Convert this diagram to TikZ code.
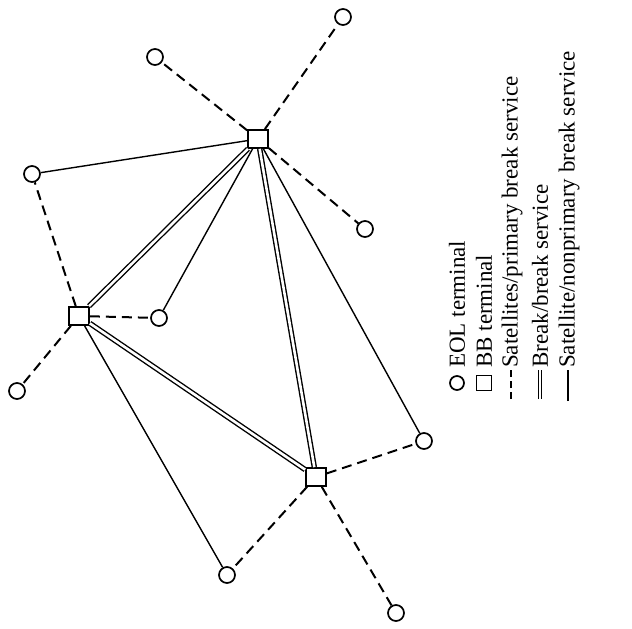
\documentclass[tikz,border=0pt]{standalone}
\usepackage{fontspec}
\setmainfont{Liberation Serif}
\begin{document}
\begin{tikzpicture}[x=1pt,y=-1pt,
  eol/.style={circle,draw,line width=1.7pt,minimum size=16pt,inner sep=0pt},
  bb/.style={rectangle,draw,line width=1.7pt,minimum width=20pt,minimum height=18pt,inner sep=0pt,fill=white},
  prim/.style={line width=2pt,dash pattern=on 10pt off 6pt},
  brk/.style={double,double distance=2.6pt,line width=1.4pt},
  nonp/.style={line width=1.4pt},
  legtext/.style={rotate=90,anchor=west,font=\fontsize{23}{27}\selectfont,inner sep=0pt}]
\useasboundingbox (0,0) rectangle (632,629);
% BB terminals
\node[bb] (A) at (258,139) {};
\node[bb] (B) at (79,316) {};
\node[bb] (C) at (316,477) {};
% EOL terminals
\node[eol] (c1) at (343,17) {};
\node[eol] (c2) at (155,57) {};
\node[eol] (c3) at (32,174) {};
\node[eol] (c4) at (365,229) {};
\node[eol] (c5) at (159,318) {};
\node[eol] (c6) at (17,391) {};
\node[eol] (c7) at (424,441) {};
\node[eol] (c8) at (227,575) {};
\node[eol] (c9) at (396,613) {};
% satellite / primary break service
\draw[prim] (A) -- (c1);
\draw[prim] (A) -- (c2);
\draw[prim] (A) -- (c4);
\draw[prim] (B) -- (c3);
\draw[prim] (B) -- (c5);
\draw[prim] (B) -- (c6);
\draw[prim] (C) -- (c7);
\draw[prim] (C) -- (c8);
\draw[prim] (C) -- (c9);
% break / break service
\draw[brk] (A) -- (B);
\draw[brk] (A) -- (C);
\draw[brk] (B) -- (C);
% satellite / nonprimary break service
\draw[nonp] (A) -- (c3);
\draw[nonp] (A) -- (c5);
\draw[nonp] (A) -- (c7);
\draw[nonp] (B) -- (c8);
% legend
\node[eol,minimum size=14pt] (l1) at (457,383) {};
\node[bb,minimum width=15pt,minimum height=15pt] (l2) at (484,383) {};
\coordinate (l3a) at (511,399); \coordinate (l3b) at (511,370);
\coordinate (l4a) at (540,399); \coordinate (l4b) at (540,370);
\coordinate (l5a) at (568,401); \coordinate (l5b) at (568,370);
\draw[prim,dash pattern=on 7pt off 4pt] (l3a) -- (l3b);
\draw[brk,double distance=2pt,line width=1.2pt] (l4a) -- (l4b);
\draw[nonp] (l5a) -- (l5b);
\node[legtext] (t1) at (457,368) {EOL terminal};
\node[legtext] (t2) at (484,368) {BB terminal};
\node[legtext] (t3) at (512,368) {Satellites/primary break service};
\node[legtext] (t4) at (540,368) {Break/break service};
\node[legtext] (t5) at (569,368) {Satellite/nonprimary break service};
\end{tikzpicture}
\end{document}
